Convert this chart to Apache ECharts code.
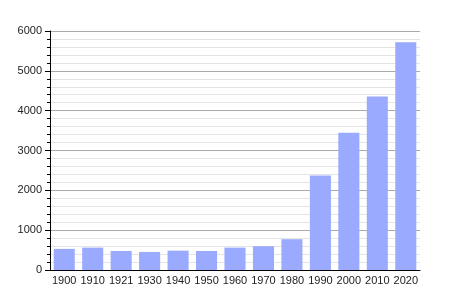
<!DOCTYPE html>
<html><head><meta charset="utf-8">
<script src="https://cdn.jsdelivr.net/npm/echarts@6/dist/echarts.min.js"></script>
<style>html,body{margin:0;padding:0;background:#fff}#c{width:450px;height:300px}</style>
</head><body><div id="c"></div>
<script>
const categories = ['1900','1910','1921','1930','1940','1950','1960','1970','1980','1990','2000','2010','2020'];
const population = [530, 562, 478, 453, 486, 478, 562, 597, 773, 2375, 3443, 4358, 5718];
const yTicks = [0, 1000, 2000, 3000, 4000, 5000, 6000];

const chart = echarts.init(document.getElementById('c'), null, {renderer: 'canvas'});
chart.setOption({
  animation: false,
  backgroundColor: '#fff',
  grid: {left: 50, right: 30, top: 31, bottom: 30, containLabel: false},
  xAxis: {
    type: 'category',
    data: categories,
    axisLine: {lineStyle: {color: '#000', width: 1}},
    axisTick: {show: false},
    axisLabel: {color: '#222', fontFamily: 'Liberation Sans, Arial, sans-serif', fontSize: 11, margin: 5, interval: 0}
  },
  yAxis: {
    type: 'value',
    min: yTicks[0],
    max: yTicks[yTicks.length - 1],
    interval: 1000,
    axisLine: {show: true, lineStyle: {color: '#000', width: 1}},
    axisTick: {show: true, length: 5, lineStyle: {color: '#000'}},
    minorTick: {show: true, splitNumber: 5, length: 3, lineStyle: {color: '#000'}},
    splitLine: {show: true, lineStyle: {color: '#aaa', width: 1}},
    minorSplitLine: {show: true, lineStyle: {color: '#e4e4e4', width: 1}},
    axisLabel: {color: '#222', fontFamily: 'Liberation Sans, Arial, sans-serif', fontSize: 11, margin: 8,
      formatter: v => String(v)}
  },
  series: [{
    type: 'bar',
    data: population,
    barCategoryGap: '26%',
    itemStyle: {color: '#99aaff'},
    z: 3
  }]
});
</script></body></html>
